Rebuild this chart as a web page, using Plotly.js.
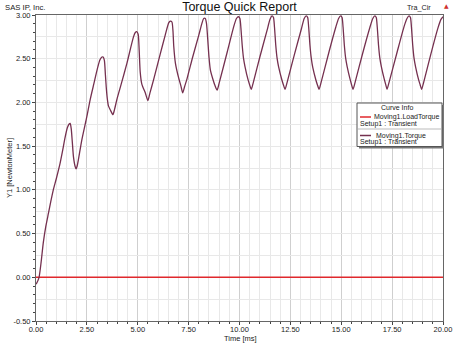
<!DOCTYPE html>
<html><head><meta charset="utf-8">
<script src="https://cdn.plot.ly/plotly-3.0.1.min.js"></script>
<style>html,body{margin:0;padding:0;background:#fff;}#chart{width:455px;height:343px;}</style>
</head><body><div id="chart"></div>
<script>
const loadTime = [0.00, 20.00];
const loadTorque = [0.00, 0.00];

const torqueTime = [0.00,0.05,0.15,0.25,0.36,0.48,0.61,0.73,0.85,1.00,1.18,1.30,1.43,1.54,1.62,1.68,1.73,1.78,1.84,1.92,1.97,2.02,2.08,2.25,2.50,2.66,2.85,3.02,3.15,3.24,3.30,3.36,3.41,3.45,3.50,3.56,3.66,3.78,3.86,3.97,4.20,4.47,4.79,4.88,4.95,5.02,5.07,5.12,5.20,5.37,5.50,5.60,5.78,6.10,6.35,6.52,6.60,6.68,6.73,6.77,6.85,7.01,7.12,7.21,7.30,7.42,7.70,8.00,8.16,8.24,8.32,8.38,8.44,8.50,8.57,8.70,8.80,8.90,
9.00,9.40,9.72,9.85,9.95,10.02,10.07,10.13,10.20,10.27,10.42,10.50,10.58,
10.68,11.00,11.36,11.50,11.60,11.67,11.72,11.78,11.85,11.92,12.08,12.16,12.24,
12.34,12.70,13.04,13.18,13.28,13.35,13.40,13.46,13.53,13.60,13.75,13.83,13.91,
14.01,14.40,14.73,14.87,14.97,15.04,15.09,15.15,15.22,15.29,15.44,15.51,15.58,
15.68,16.05,16.41,16.55,16.65,16.72,16.77,16.83,16.90,16.97,17.12,17.19,17.25,
17.35,17.75,18.09,18.23,18.33,18.40,18.45,18.51,18.58,18.65,18.80,18.88,18.95,
19.05,19.40,19.75,19.90,20.00];
const torque = [-0.08,-0.06,0.00,0.17,0.40,0.58,0.73,0.87,1.00,1.13,1.30,1.44,1.60,1.71,1.75,1.76,1.70,1.56,1.38,1.27,1.24,1.27,1.34,1.57,1.84,2.03,2.22,2.39,2.49,2.52,2.52,2.48,2.32,2.18,2.05,1.96,1.91,1.86,1.92,2.03,2.22,2.45,2.75,2.80,2.81,2.78,2.60,2.35,2.21,2.11,2.02,2.11,2.26,2.55,2.77,2.91,2.93,2.92,2.82,2.64,2.45,2.28,2.19,2.11,2.18,2.27,2.52,2.77,2.91,2.96,2.96,2.90,2.72,2.52,2.37,2.26,2.19,2.14,
2.22,2.58,2.87,2.96,2.98,2.96,2.85,2.66,2.50,2.41,2.26,2.20,2.15,
2.23,2.52,2.83,2.95,2.99,2.97,2.86,2.66,2.50,2.41,2.26,2.20,2.15,
2.23,2.55,2.84,2.96,2.99,2.97,2.86,2.66,2.50,2.40,2.26,2.20,2.15,
2.23,2.58,2.86,2.96,2.99,2.97,2.86,2.66,2.50,2.41,2.26,2.20,2.15,
2.23,2.56,2.86,2.96,2.99,2.97,2.86,2.66,2.50,2.41,2.26,2.20,2.15,
2.23,2.58,2.87,2.96,2.99,2.97,2.86,2.66,2.50,2.41,2.26,2.20,2.15,
2.23,2.55,2.85,2.95,2.98];

const xTicks = [0, 2.5, 5, 7.5, 10, 12.5, 15, 17.5, 20];
const xTickText = ['0.00','2.50','5.00','7.50','10.00','12.50','15.00','17.50','20.00'];
const yTicks = [-0.5, 0, 0.5, 1, 1.5, 2, 2.5, 3];
const yTickText = ['-0.50','0.00','0.50','1.00','1.50','2.00','2.50','3.00'];
const seriesNames = ['Moving1.LoadTorque', 'Moving1.Torque'];
const setupName = 'Setup1 : Transient';
const seriesColors = ['#e0282c', '#75304f'];

const F = 'Arial, "Liberation Sans", sans-serif';
// plot area in pixels: left 36, right 443, top 15, bottom 321
const px = v => (v - 36) / 407;
const py = v => (321 - v) / 306;

const traces = [
  {x: loadTime, y: loadTorque, mode: 'lines', name: seriesNames[0],
   line: {color: seriesColors[0], width: 1.5}},
  {x: torqueTime, y: torque, mode: 'lines', name: seriesNames[1],
   line: {color: seriesColors[1], width: 1.3, shape: 'spline', smoothing: 0.6}},
  {x: [0], y: [0], yaxis: 'y2', mode: 'markers', marker: {opacity: 0}, showlegend: false, hoverinfo: 'skip'}
];

const txt = (text, x, y, xa, size, extra) => Object.assign({text, xref: 'paper', yref: 'paper', x, y,
  xanchor: xa, yanchor: 'middle', showarrow: false, font: {family: F, size, color: '#1a1a1a'}}, extra || {});

const annotations = [
  txt('SAS IP, Inc.', px(3), py(7), 'left', 7.7),
  txt('Tra_Cir', px(433), py(7), 'right', 7.2),
  txt('▲', px(446), py(5.5), 'center', 6, {font: {family: 'DejaVu Sans', size: 6, color: '#d03030'}}),
  txt('Time [ms]', px(240), py(338), 'center', 7.5),
  txt('Y1 [NewtonMeter]', px(9), py(168), 'center', 7.5, {textangle: -90}),
  // legend
  txt('Curve Info', px(397), py(107.5), 'center', 7),
  txt(seriesNames[0], px(441), py(117), 'right', 7),
  txt(setupName, px(358), py(124), 'left', 7),
  txt(seriesNames[1], px(374), py(135.5), 'left', 7),
  txt(setupName, px(358), py(142), 'left', 7)
];

const shapes = [
  {type: 'rect', xref: 'paper', yref: 'paper', x0: px(359), x1: px(444), y0: py(105), y1: py(148.5),
   fillcolor: '#777', line: {width: 0}, layer: 'above'},
  {type: 'rect', xref: 'paper', yref: 'paper', x0: px(357), x1: px(442), y0: py(103), y1: py(146.5),
   fillcolor: '#ffffff', line: {color: '#555', width: 1}, layer: 'above'},
  {type: 'line', xref: 'paper', yref: 'paper', x0: px(358), x1: px(441), y0: py(129), y1: py(129),
   line: {color: '#bbb', width: 1}, layer: 'above'},
  {type: 'line', xref: 'paper', yref: 'paper', x0: px(360), x1: px(371), y0: py(117), y1: py(117),
   line: {color: seriesColors[0], width: 1.5}, layer: 'above'},
  {type: 'line', xref: 'paper', yref: 'paper', x0: px(360), x1: px(371), y0: py(135.5), y1: py(135.5),
   line: {color: seriesColors[1], width: 1.5}, layer: 'above'}
];

const layout = {
  width: 455, height: 343,
  margin: {l: 36, r: 12, t: 15, b: 22},
  paper_bgcolor: '#ffffff', plot_bgcolor: '#ffffff',
  showlegend: false,
  title: {text: 'Torque Quick Report', x: 0.5, xref: 'paper', xanchor: 'center', y: 1 - 7/343, yanchor: 'middle',
          font: {family: F, size: 12.5, color: '#111'}},
  xaxis: {range: [0, 20], tickvals: xTicks, ticktext: xTickText, ticks: 'outside', ticklen: 3,
          tickcolor: '#444', showline: true, linecolor: '#666', linewidth: 1, mirror: true,
          showgrid: true, gridcolor: '#cfcfcf', gridwidth: 1, zeroline: false, ticklabelstandoff: -2,
          tickfont: {family: F, size: 7.5, color: '#222'},
          minor: {dtick: 0.5, tick0: 0, ticks: 'outside', ticklen: 2, tickcolor: '#444', showgrid: true, gridcolor: '#e8e8e8'}},
  yaxis: {range: [-0.5, 3], tickvals: yTicks, ticktext: yTickText, ticks: 'outside', ticklen: 3,
          tickcolor: '#444', showline: true, linecolor: '#666', linewidth: 1, mirror: true,
          showgrid: true, gridcolor: '#cfcfcf', gridwidth: 1, zeroline: false,
          tickfont: {family: F, size: 7.5, color: '#222'},
          minor: {dtick: 0.1, tick0: 0, ticks: 'outside', ticklen: 2, tickcolor: '#444', showgrid: false}},
  yaxis2: {overlaying: 'y', range: [-0.5, 3], dtick: 0.25, tick0: 0, showticklabels: false, ticks: '',
           showgrid: true, gridcolor: '#e8e8e8', zeroline: false, showline: false},
  annotations, shapes
};
Plotly.newPlot('chart', traces, layout, {staticPlot: true, displayModeBar: false});
</script></body></html>
